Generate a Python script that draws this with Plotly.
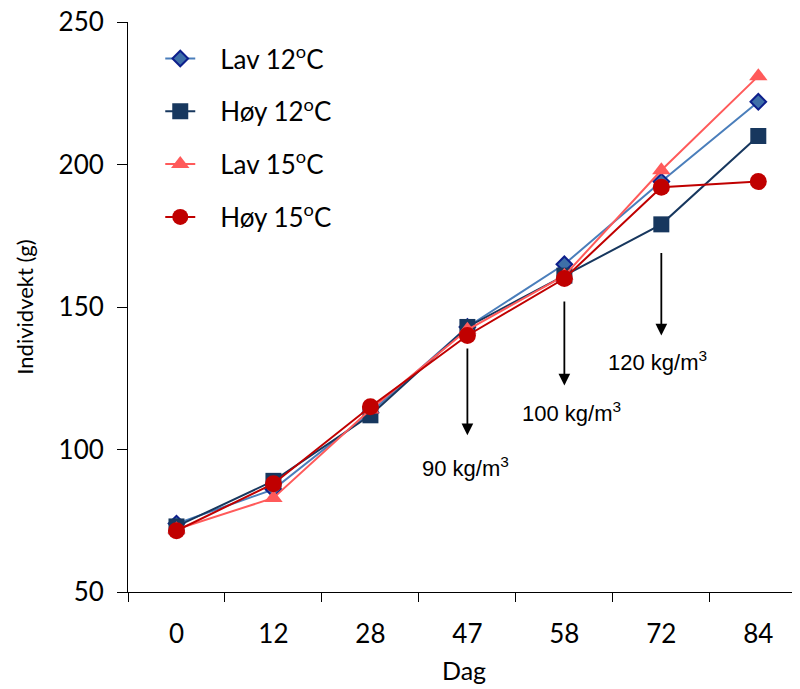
import plotly.graph_objects as go

days = ["0", "12", "28", "47", "58", "72", "84"]
lav12 = [74, 86, 113, 143, 165, 194, 222]
hoy12 = [73, 89, 112, 143, 161, 179, 210]
lav15 = [72, 83, 114, 142, 161, 198, 231]
hoy15 = [71.5, 88, 115, 140, 160, 192, 194]

arrow_days = ["47", "58", "72"]
arrow_start = [136, 152.5, 169.5]
arrow_end = [105, 122.5, 140]
arrow_text = ["90 kg/m<sup>3</sup>", "100 kg/m<sup>3</sup>", "120 kg/m<sup>3</sup>"]
arrow_text_y = [94, 113, 131]
text_dx = [-2, 7, -4]

pad = "\u00a0\u00a0\u00a0"
fig = go.Figure()
series = [
    ("Lav 12<sup>o</sup>C", lav12, "#4A7EBB", dict(symbol="diamond", size=12, color="#3E6FA8", line=dict(color="#0D1F8C", width=2))),
    ("Høy 12<sup>o</sup>C", hoy12, "#17375E", dict(symbol="square", size=16, color="#17375E", line=dict(width=0))),
    ("Lav 15<sup>o</sup>C", lav15, "#FF5A5A", dict(symbol="triangle-up", size=16, color="#FF5A5A", line=dict(width=0))),
    ("Høy 15<sup>o</sup>C", hoy15, "#C00000", dict(symbol="circle", size=17, color="#C00000", line=dict(width=0))),
]
for i, (name, ys, lc, mk) in enumerate(series):
    fig.add_trace(go.Scatter(x=days, y=ys, name=pad + name, mode="lines+markers",
                             line=dict(color=lc, width=2), marker=mk,
                             legendgroup=f"g{i}"))

for d, s, e, t, ty, dx in zip(arrow_days, arrow_start, arrow_end, arrow_text, arrow_text_y, text_dx):
    xi = days.index(d)
    fig.add_annotation(x=xi, y=e, ax=xi, ay=s, xref="x", yref="y", axref="x", ayref="y",
                       text="", showarrow=True, arrowhead=2, arrowsize=1.3,
                       arrowwidth=1.8, arrowcolor="black")
    fig.add_annotation(x=xi, y=ty, xref="x", yref="y", text=t, showarrow=False, xshift=dx,
                       font=dict(family="Liberation Sans, Arial", size=22, color="black"))

fig.update_layout(
    width=800, height=689,
    margin=dict(l=120, r=8, t=14, b=105),
    plot_bgcolor="white", paper_bgcolor="white",
    font=dict(family="Lato, Calibri, sans-serif", size=24, color="black"),
    legend=dict(x=0.048, y=0.977, xanchor="left", yanchor="top", bgcolor="rgba(0,0,0,0)",
                font=dict(size=26), tracegroupgap=16, traceorder="grouped"),
    xaxis=dict(type="category", range=[-0.5, 6.43], showline=True, linecolor="black",
               linewidth=1, ticks="outside", tickson="boundaries", ticklen=9,
               tickcolor="black", showgrid=False, zeroline=False, automargin=False,
               ticklabelstandoff=19, ticklabeloverflow="allow",
               title=dict(text="Dag", standoff=14, font=dict(size=25)), tickfont=dict(size=26)),
    yaxis=dict(range=[50, 250], dtick=50, showline=True, linecolor="black", linewidth=1,
               ticks="outside", ticklen=10, tickcolor="black", showgrid=False, zeroline=False,
               automargin=False, ticklabelstandoff=8, ticklabeloverflow="allow",
               title=dict(text="Individvekt (g)", standoff=18, font=dict(size=22)),
               tickfont=dict(size=26)),
)

fig.write_html("out.html")
